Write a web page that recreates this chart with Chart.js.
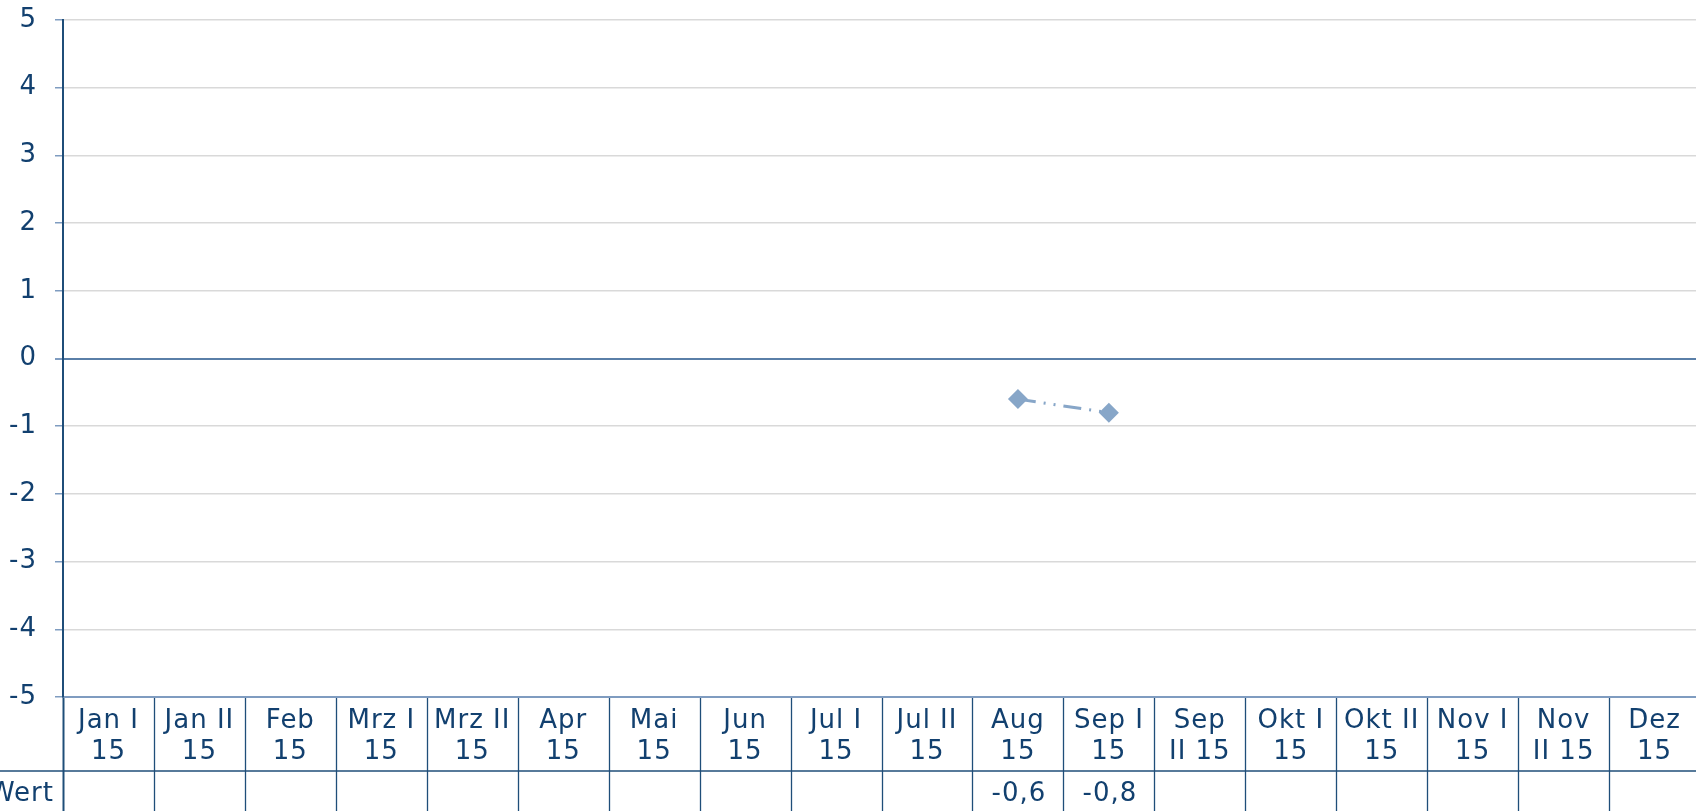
<!DOCTYPE html>
<html>
<head>
<meta charset="utf-8">
<script src="https://cdn.jsdelivr.net/npm/chart.js@4/dist/chart.umd.min.js"></script>
<style>
  html, body { margin: 0; padding: 0; background: #fff; overflow: hidden; }
  #wrap { width: 1700px; height: 811px; position: relative; }
</style>
</head>
<body>
<div id="wrap"><canvas id="chart" width="1700" height="811"></canvas></div>
<script>
// Periods, two lines each (as in the source table header)
const categories = [
  ['Jan I', '15'], ['Jan II', '15'], ['Feb', '15'], ['Mrz I', '15'], ['Mrz II', '15'],
  ['Apr', '15'], ['Mai', '15'], ['Jun', '15'], ['Jul I', '15'], ['Jul II', '15'],
  ['Aug', '15'], ['Sep I', '15'], ['Sep', 'II 15'], ['Okt I', '15'], ['Okt II', '15'],
  ['Nov I', '15'], ['Nov', 'II 15'], ['Dez', '15']
];
const values = [null, null, null, null, null, null, null, null, null, null, -0.6, -0.8, null, null, null, null, null, null];
const seriesName = 'Wert';
const yMin = -5, yMax = 5, yStep = 1;

const TEXT = '#12406f';
const FONT = 'DejaVu Sans';
const SIZE = 26;

Chart.defaults.font.family = FONT;
Chart.defaults.font.size = SIZE;
Chart.defaults.color = TEXT;

const spacing = {
  id: 'spacing',
  beforeLayout(chart) { chart.ctx.letterSpacing = '1px'; },
  beforeDraw(chart) { chart.ctx.letterSpacing = '1px'; }
};

// data table under the axis: grid lines + "Wert" row
const dataTable = {
  id: 'dataTable',
  afterDraw(chart) {
    const ctx = chart.ctx;
    const xs = chart.scales.x;
    const top = chart.chartArea.bottom;
    const rowY = top + 74;
    ctx.save();
    ctx.letterSpacing = '1px';
    // vertical cell borders
    for (let i = 0; i <= categories.length; i++) {
      const px = Math.round(xs.getPixelForValue(i - 0.5)) + 0.5;
      ctx.beginPath();
      ctx.strokeStyle = '#1f4e79';
      ctx.lineWidth = i === 0 ? 2 : 1.3;
      ctx.moveTo(px, top + 1);
      ctx.lineTo(px, chart.height);
      ctx.stroke();
    }
    // row separator
    ctx.beginPath();
    ctx.strokeStyle = '#1f4e79';
    ctx.lineWidth = 1.5;
    ctx.moveTo(0, rowY);
    ctx.lineTo(chart.width, rowY);
    ctx.stroke();
    // row content
    ctx.fillStyle = TEXT;
    ctx.font = SIZE + 'px "' + FONT + '"';
    ctx.textBaseline = 'middle';
    ctx.textAlign = 'right';
    ctx.fillText(seriesName, 54, rowY + 23);
    ctx.textAlign = 'center';
    values.forEach((v, i) => {
      if (v === null) return;
      ctx.fillText(v.toFixed(1).replace('.', ','), xs.getPixelForValue(i) + 1, rowY + 23);
    });
    ctx.restore();
  }
};

new Chart(document.getElementById('chart'), {
  type: 'line',
  data: {
    labels: categories,
    datasets: [{
      label: seriesName,
      data: values,
      borderColor: '#87a6c8',
      backgroundColor: '#87a6c8',
      borderWidth: 3,
      borderDash: [18, 8, 2, 8, 2, 8],
      pointStyle: 'rectRot',
      pointRadius: 10,
      pointBorderWidth: 0,
      tension: 0
    }]
  },
  options: {
    responsive: false,
    animation: false,
    layout: { autoPadding: false, padding: { top: 20, right: 0, left: 0, bottom: 0 } },
    plugins: { legend: { display: false }, tooltip: { enabled: false } },
    scales: {
      x: {
        offset: true,
        grid: { display: false },
        border: { display: true, color: '#7f9cc0', width: 2 },
        ticks: {
          autoSkip: false, maxRotation: 0, padding: 1,
          font: { size: SIZE, lineHeight: 1.19 }, color: TEXT
        },
        afterFit(axis) {
          axis.height = 114;
          axis.paddingLeft = 0;
          axis.paddingRight = 0;
        }
      },
      y: {
        min: yMin, max: yMax,
        border: { display: true, color: '#1f4e79', width: 2 },
        grid: {
          color: ctx => ctx.tick && ctx.tick.value === 0 ? '#5a7fa8' : '#d9d9d9',
          lineWidth: ctx => ctx.tick && ctx.tick.value === 0 ? 2 : 1.5,
          tickColor: '#7f9cc0',
          tickLength: 8
        },
        ticks: { stepSize: yStep, padding: 18, color: TEXT, font: { size: SIZE } },
        afterFit(axis) {
          axis.width = 63;
          axis.paddingTop = 0;
          axis.paddingBottom = 0;
        }
      }
    }
  },
  plugins: [spacing, dataTable]
});
</script>
</body>
</html>
